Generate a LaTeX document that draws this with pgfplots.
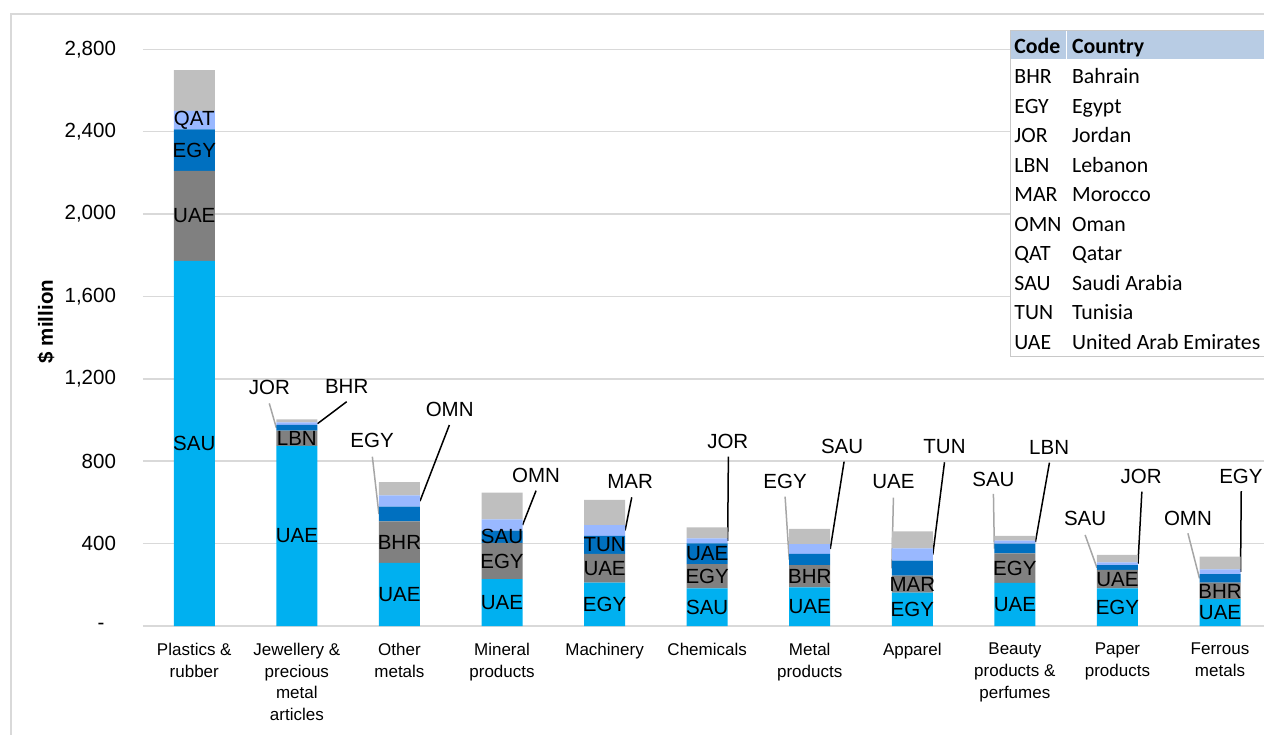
\documentclass[border=0pt]{standalone}
\usepackage{fontspec}
\setmainfont{Liberation Sans}
\setsansfont{Liberation Sans}
\newfontfamily\carlito{Carlito}
\usepackage{pgfplots}
\pgfplotsset{compat=1.18}

\definecolor{cA}{HTML}{00B0F0}
\definecolor{cB}{HTML}{808080}
\definecolor{cC}{HTML}{0070C0}
\definecolor{cD}{HTML}{99B8FF}
\definecolor{cE}{HTML}{BFBFBF}
\definecolor{gridgray}{HTML}{D9D9D9}
\definecolor{leadgray}{HTML}{A6A6A6}
\definecolor{hdrblue}{HTML}{B8CCE4}
\definecolor{tblborder}{HTML}{C8C8C8}

\newcommand{\lblfont}{\fontsize{10.25}{12}\selectfont}

\begin{document}
\begin{tikzpicture}
\useasboundingbox (0,0) rectangle (632pt,367pt);
% chart area frame
\draw[gridgray, line width=0.75pt] (5.5pt,-5pt) -- (5.5pt,360pt) -- (640pt,360pt);

\begin{axis}[
  at={(71.5pt,54pt)}, anchor=south west,
  scale only axis, width=564.15pt, height=288.35pt,
  xmin=-0.5, xmax=10.5, ymin=0, ymax=2800,
  ybar stacked, bar width=20.5pt,
  axis line style={draw=none},
  tick style={draw=none},
  ymajorgrids, grid style={draw=gridgray, line width=0.75pt},
  ytick={0,400,800,1200,1600,2000,2400,2800},
  yticklabels={-\hphantom{0},400,800,{1,200},{1,600},{2,000},{2,400},{2,800}},
  yticklabel style={font=\lblfont, xshift=-10pt},
  xtick={0,...,10},
  xticklabels={{Plastics \&\\rubber},{Jewellery \&\\precious\\metal\\articles},{Other\\metals},{Mineral\\products},{Machinery},{Chemicals},{Metal\\products},{Apparel},{Beauty\\products \&\\perfumes},{Paper\\products},{Ferrous\\metals}},
  xticklabel style={align=center, font=\fontsize{8.5}{10.85}\selectfont, yshift=-5pt},
  ylabel={\$ million},
  every axis y label/.style={at={(axis description cs:-0.08597,0.528)}, rotate=90, anchor=center, font=\bfseries\lblfont},
  clip=false,
  % segment names, centred in each stacked segment
  seglabel/.style={
    point meta=explicit symbolic,
    nodes near coords,
    every node near coord/.style={anchor=center, font=\lblfont, text=black, inner sep=0pt},
  },
]
% first exporter (bright blue)
\addplot+[fill=cA, draw=none, seglabel] coordinates {
 (0,1773)[SAU] (1,874)[UAE] (2,307)[UAE] (3,227)[UAE] (4,210)[EGY] (5,183)[SAU]
 (6,188)[UAE] (7,162)[EGY] (8,209)[UAE] (9,183)[EGY] (10,130)[UAE]};
% second exporter (grey)
\addplot+[fill=cB, draw=none, seglabel] coordinates {
 (0,437)[UAE] (1,74)[LBN] (2,201)[BHR] (3,177)[EGY] (4,140)[UAE] (5,118)[EGY]
 (6,107)[BHR] (7,82)[MAR] (8,144)[EGY] (9,89)[UAE] (10,80)[BHR]};
% third exporter (dark blue)
\addplot+[fill=cC, draw=none, seglabel] coordinates {
 (0,201)[EGY] (1,28)[\relax] (2,71)[\relax] (3,59)[SAU] (4,88)[TUN] (5,100)[UAE]
 (6,55)[\relax] (7,73)[\relax] (8,47)[\relax] (9,23)[\relax] (10,42)[\relax]};
% fourth exporter (light blue)
\addplot+[fill=cD, draw=none, seglabel] coordinates {
 (0,90)[QAT] (1,13)[\relax] (2,55)[\relax] (3,55)[\relax] (4,52)[\relax] (5,25)[\relax]
 (6,48)[\relax] (7,60)[\relax] (8,14)[\relax] (9,14)[\relax] (10,23)[\relax]};
% all other exporters
\addplot+[fill=cE, draw=none] coordinates {
 (0,198) (1,14) (2,65) (3,129) (4,122) (5,53)
 (6,74) (7,83) (8,23) (9,36) (10,62)};

% callouts for the thin segments
\tikzset{callout/.style={font=\lblfont, inner sep=0pt, anchor=center}}
\node[callout] at (axis cs:0.733,1160) {JOR};
\draw[leadgray, line width=0.75pt] (axis cs:0.731,1081) -- (axis cs:0.800,962);
\node[callout] at (axis cs:1.486,1162) {BHR};
\draw[black, line width=0.75pt] (axis cs:1.486,1089) -- (axis cs:1.200,982);

\node[callout] at (axis cs:1.733,903) {EGY};
\draw[leadgray, line width=0.75pt] (axis cs:1.736,822) -- (axis cs:1.800,543);
\node[callout] at (axis cs:2.490,1052) {OMN};
\draw[black, line width=0.75pt] (axis cs:2.487,976) -- (axis cs:2.200,606);

\node[callout] at (axis cs:3.332,733) {OMN};
\draw[black, line width=0.75pt] (axis cs:3.332,657) -- (axis cs:3.200,490);

\node[callout] at (axis cs:4.249,704) {MAR};
\draw[black, line width=0.75pt] (axis cs:4.265,625) -- (axis cs:4.200,464);

\node[callout] at (axis cs:5.201,898) {JOR};
\draw[black, line width=0.75pt] (axis cs:5.207,822) -- (axis cs:5.200,413);

\node[callout] at (axis cs:5.760,704) {EGY};
\draw[leadgray, line width=0.75pt] (axis cs:5.760,628) -- (axis cs:5.800,322);
\node[callout] at (axis cs:6.316,874) {SAU};
\draw[black, line width=0.75pt] (axis cs:6.335,798) -- (axis cs:6.200,374);

\node[callout] at (axis cs:6.816,700) {UAE};
\draw[leadgray, line width=0.75pt] (axis cs:6.816,623) -- (axis cs:6.800,280);
\node[callout] at (axis cs:7.314,870) {TUN};
\draw[black, line width=0.75pt] (axis cs:7.314,795) -- (axis cs:7.200,347);

\node[callout] at (axis cs:7.791,712) {SAU};
\draw[leadgray, line width=0.75pt] (axis cs:7.791,641) -- (axis cs:7.800,376);
\node[callout] at (axis cs:8.334,867) {LBN};
\draw[black, line width=0.75pt] (axis cs:8.337,793) -- (axis cs:8.200,407);

\node[callout] at (axis cs:8.685,523) {SAU};
\draw[leadgray, line width=0.75pt] (axis cs:8.685,442) -- (axis cs:8.800,283);
\node[callout] at (axis cs:9.231,728) {JOR};
\draw[black, line width=0.75pt] (axis cs:9.238,652) -- (axis cs:9.200,302);

\node[callout] at (axis cs:9.687,523) {OMN};
\draw[leadgray, line width=0.75pt] (axis cs:9.687,450) -- (axis cs:9.800,231);
\node[callout] at (axis cs:10.204,728) {EGY};
\draw[black, line width=0.75pt] (axis cs:10.207,655) -- (axis cs:10.200,263);
\end{axis}

% country code table
\fill[white] (505pt,188.65pt) rectangle (640pt,351.65pt);
\fill[hdrblue] (505pt,337.35pt) rectangle (640pt,351.65pt);
\draw[white, line width=0.75pt] (533.35pt,337.35pt) -- (533.35pt,351.65pt);
\draw[tblborder, line width=0.5pt] (640pt,351.65pt) -- (505pt,351.65pt) -- (505pt,188.65pt) -- (640pt,188.65pt);
\node[anchor=base west, inner sep=0pt, font=\carlito\bfseries\fontsize{10.9}{12}\selectfont] at (507pt,340.15pt) {Code};
\node[anchor=base west, inner sep=0pt, font=\carlito\bfseries\fontsize{10.9}{12}\selectfont] at (535.85pt,340.15pt) {Country};
\foreach \code/\name [count=\k from 0] in {BHR/Bahrain, EGY/Egypt, JOR/Jordan, LBN/Lebanon, MAR/Morocco, OMN/Oman, QAT/Qatar, SAU/Saudi Arabia, TUN/Tunisia, UAE/United Arab Emirates}{
  \node[anchor=base west, inner sep=0pt, font=\carlito\fontsize{10.9}{12}\selectfont] at (507pt,{325.15pt-14.75pt*\k}) {\code};
  \node[anchor=base west, inner sep=0pt, font=\carlito\fontsize{10.9}{12}\selectfont] at (535.85pt,{325.15pt-14.75pt*\k}) {\name};
}
\end{tikzpicture}
\end{document}
